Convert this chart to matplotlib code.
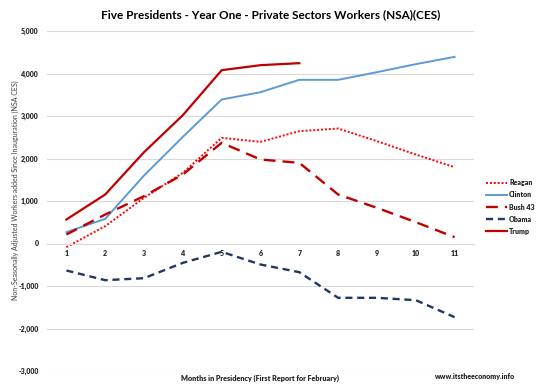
import matplotlib

matplotlib.use("Agg")
import matplotlib.pyplot as plt

months = [1, 2, 3, 4, 5, 6, 7, 8, 9, 10, 11]

reagan = [-86, 408, 1075, 1663, 2486, 2392, 2643, 2706, 2408, 2094, 1796]
clinton = [267, 580, 1600, 2510, 3388, 3560, 3851, 3851, 4031, 4220, 4392]
bush43 = [212, 682, 1114, 1624, 2369, 1976, 1898, 1153, 839, 502, 149]
obama = [-635, -863, -816, -455, -196, -494, -675, -1278, -1278, -1334, -1733]
trump = [565, 1153, 2149, 3020, 4078, 4196, 4243]

y_ticks = [-3000, -2000, -1000, 0, 1000, 2000, 3000, 4000, 5000]

plt.rcParams["font.family"] = ["Lato", "DejaVu Sans"]
TXT = "#262626"

fig = plt.figure(figsize=(5.41, 3.91), dpi=100)
ax = fig.add_axes([47 / 541, 20 / 391, 427 / 541, 340 / 391])

for side in ["top", "right", "left"]:
    ax.spines[side].set_visible(False)
ax.spines["bottom"].set_position(("data", 0))
ax.spines["bottom"].set_color("#d9d9d9")
ax.spines["bottom"].set_linewidth(0.8)

ax.plot(months, reagan, color="#ff0000", lw=1.4, ls=(0, (1, 1)), label="Reagan")
ax.plot(months, clinton, color="#5b9bd5", lw=1.4, label="Clinton")
ax.plot(months, bush43, color="#c00000", lw=1.7, ls=(0, (5, 3)), label="Bush 43")
ax.plot(months, obama, color="#1f3864", lw=1.7, ls=(0, (3, 2)), label="Obama")
ax.plot(months[:len(trump)], trump, color="#c00000", lw=1.6, label="Trump")

ax.set_xlim(0.5, 11.5)
ax.set_ylim(-3000, 5000)
ax.set_yticks(y_ticks)
ax.set_yticklabels([f"{v:,}" for v in y_ticks], fontsize=5, fontweight="heavy", color=TXT)
ax.set_xticks(months)
ax.set_xticklabels([str(m) for m in months], fontsize=5, fontweight="heavy", color=TXT)
ax.tick_params(axis="y", length=0, pad=6)
ax.tick_params(axis="x", length=0, pad=5)
ax.grid(axis="y", color="#d9d9d9", lw=0.8)
ax.set_axisbelow(True)

fig.text(0.5, 1 - 15 / 391, "Five Presidents - Year One - Private Sectors Workers (NSA)(CES)",
         ha="center", va="center", fontsize=8.5, fontweight="bold")
fig.text(15 / 541, 201 / 391, "Non-Seasonally Adjusted Workers added Since Inauguration (NSA CES)",
         ha="center", va="center", rotation=90, fontsize=5, color="#404040")
fig.text(260 / 541, 1 - 378 / 391, "Months in Presidency (First Report for February)",
         ha="center", va="center", fontsize=5.2, fontweight="heavy", color=TXT)
fig.text(475 / 541, 1 - 376 / 391, "www.itstheeconomy.info",
         ha="center", va="center", fontsize=5, fontweight="heavy", color=TXT)

leg = fig.legend(loc="center left", bbox_to_anchor=(480 / 541, 1 - 207 / 391),
                 frameon=False, handlelength=3.0, handletextpad=0.3, labelspacing=0.75,
                 prop={"size": 5, "weight": "heavy"})
for t in leg.get_texts():
    t.set_color(TXT)

fig.savefig("out.png", dpi=100)
